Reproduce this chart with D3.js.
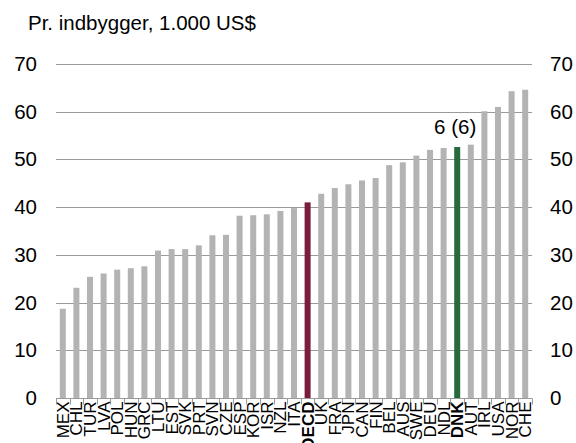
<!DOCTYPE html>
<html>
<head>
<meta charset="utf-8">
<script src="https://cdn.jsdelivr.net/npm/d3@7"></script>
<style>
  body { margin: 0; background: #fff; }
  text { font-family: "Liberation Sans", Arial, sans-serif; fill: #000; }
</style>
</head>
<body>
<script>
// BNP pr. indbygger, 1.000 US$
const countries = ["MEX","CHL","TUR","LVA","POL","HUN","GRC","LTU","EST","SVK","PRT","SVN","CZE","ESP","KOR","ISR","NZL","ITA","OECD","UK","FRA","JPN","CAN","FIN","BEL","AUS","SWE","DEU","NDL","DNK","AUT","IRL","USA","NOR","CHE"];
const values = [18.7,23.1,25.4,26.1,26.9,27.2,27.6,30.9,31.2,31.2,32.0,34.1,34.2,38.2,38.3,38.5,39.2,39.8,41.0,42.8,44.0,44.8,45.6,46.1,48.8,49.4,50.8,52.0,52.4,52.6,53.1,60.1,61.0,64.3,64.6];
const yTicks = [0,10,20,30,40,50,60,70];
const highlight = {"OECD": "#7a1c3b", "DNK": "#276a3e"};
const rankLabel = {country: "DNK", text: "6 (6)"};
const title = "Pr. indbygger, 1.000 US$";

const width = 576, height = 443;
const margin = {top: 64, right: 44, bottom: 45, left: 56};

const svg = d3.select("body").append("svg")
  .attr("width", width)
  .attr("height", height);

const x = d3.scaleBand()
  .domain(countries)
  .range([margin.left, width - margin.right])
  .paddingInner(0.56)
  .paddingOuter(0.28);

const y = d3.scaleLinear()
  .domain([0, 70])
  .range([height - margin.bottom, margin.top]);

// gridlines
svg.append("g")
  .selectAll("line")
  .data(yTicks)
  .enter().append("line")
  .attr("x1", margin.left)
  .attr("x2", width - margin.right)
  .attr("y1", d => Math.round(y(d)) + 0.5)
  .attr("y2", d => Math.round(y(d)) + 0.5)
  .style("stroke", "#9a9a9a")
  .style("stroke-width", 1);

// left axis labels
const yAxisL = d3.axisLeft(y).tickValues(yTicks).tickSize(0).tickPadding(19);
svg.append("g")
  .attr("transform", "translate(" + margin.left + ",0)")
  .call(yAxisL)
  .call(g => g.select(".domain").remove())
  .selectAll("text")
  .style("font-size", "20.5px")
  .style("font-family", "Liberation Sans, Arial, sans-serif");

// right axis labels
const yAxisR = d3.axisRight(y).tickValues(yTicks).tickSize(0).tickPadding(18);
svg.append("g")
  .attr("transform", "translate(" + (width - margin.right) + ",0)")
  .call(yAxisR)
  .call(g => g.select(".domain").remove())
  .selectAll("text")
  .style("font-size", "20.5px")
  .style("font-family", "Liberation Sans, Arial, sans-serif");

// bars
svg.append("g")
  .selectAll("rect")
  .data(countries)
  .enter().append("rect")
  .attr("x", d => x(d))
  .attr("width", x.bandwidth())
  .attr("y", (d, i) => y(values[i]))
  .attr("height", (d, i) => y(0) - y(values[i]))
  .style("fill", d => highlight[d] || "#b3b3b3");

// x axis line + ticks between categories
const step = x.step();
const base = Math.round(y(0)) + 0.5;
svg.append("line")
  .attr("x1", margin.left).attr("x2", width - margin.right)
  .attr("y1", base).attr("y2", base)
  .style("stroke", "#9a9a9a");

svg.append("g")
  .selectAll("line")
  .data(d3.range(countries.length + 1))
  .enter().append("line")
  .attr("x1", i => Math.round(margin.left + i * step) + 0.5)
  .attr("x2", i => Math.round(margin.left + i * step) + 0.5)
  .attr("y1", base)
  .attr("y2", base + 6)
  .style("stroke", "#9a9a9a");

// category labels, rotated
svg.append("g")
  .selectAll("text")
  .data(countries)
  .enter().append("text")
  .attr("transform", d => "translate(" + (x(d) + x.bandwidth() / 2 + 6) + "," + (base + 3) + ") rotate(-90)")
  .style("text-anchor", "end")
  .style("font-size", "17px")
  .style("font-weight", d => highlight[d] ? "bold" : "normal")
  .text(d => d);

// rank annotation
svg.append("text")
  .attr("x", x(rankLabel.country) + x.bandwidth() / 2 - 2)
  .attr("y", 134)
  .style("text-anchor", "middle")
  .style("font-size", "20.5px")
  .text(rankLabel.text);

// title
svg.append("text")
  .attr("x", 28)
  .attr("y", 30)
  .style("font-size", "20.5px")
  .text(title);
</script>
</body>
</html>
